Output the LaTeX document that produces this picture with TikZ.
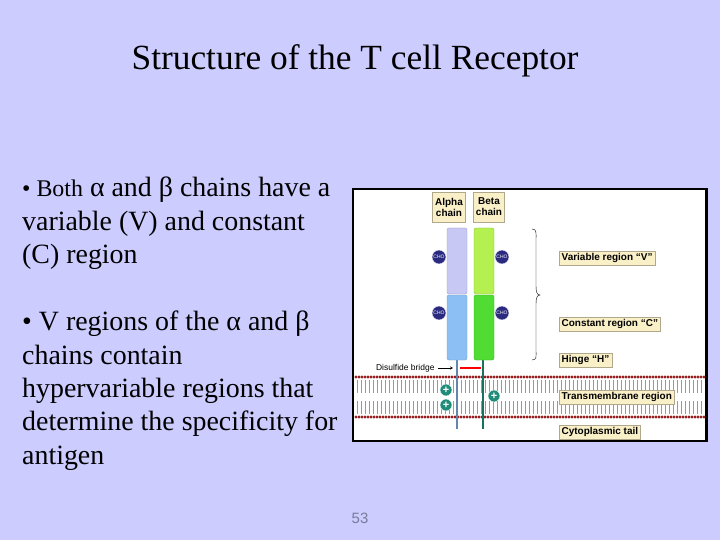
\documentclass[tikz,border=0pt]{standalone}
\usepackage{fontspec}
\setmainfont{Liberation Serif}
\newfontfamily\labelfont{Liberation Sans}
\definecolor{slidebg}{HTML}{CCCCFF}
\definecolor{boxfill}{HTML}{FAF0C8}
\definecolor{alphaV}{HTML}{C8C8F5}
\definecolor{alphaC}{HTML}{8CC0F5}
\definecolor{betaV}{HTML}{B4F050}
\definecolor{betaC}{HTML}{50DC32}
\definecolor{choblue}{HTML}{2A2A80}
\definecolor{plusgreen}{HTML}{1E8C78}
\definecolor{lipid}{HTML}{961E1E}
\tikzset{
  tag/.style={draw=boxfill!70!black,fill=boxfill,inner sep=2.5pt,font=\labelfont\bfseries\fontsize{10}{11}\selectfont,anchor=west},
  cho/.style={circle,fill=choblue,draw=white,inner sep=0pt,minimum size=14pt,font=\labelfont\fontsize{5}{5}\selectfont,text=white},
  plus/.style={circle,fill=plusgreen,draw=white,inner sep=0pt,minimum size=12pt,font=\labelfont\bfseries\fontsize{11}{11}\selectfont,text=white},
  body/.style={anchor=north west,align=left,font=\fontsize{28}{33.5}\selectfont,inner sep=0pt}
}
\begin{document}
\begin{tikzpicture}[x=1bp,y=-1bp]
\fill[slidebg] (0,0) rectangle (720,540);
\useasboundingbox (0,0) rectangle (720,540);
% title and text
\node (title) at (355,61) {\fontsize{35.5}{40}\selectfont Structure of the T cell Receptor};
\node[body] (txtA) at (22,177) {{\fontsize{24}{24}\selectfont\textbullet\ Both} α and β chains have a\\variable (V) and constant\\(C) region};
\node[body] (txtB) at (22,311) {\textbullet\ V regions of the α and β\\chains contain\\hypervariable regions that\\determine the specificity for\\antigen};
\node[text=slidebg!60!black,font=\labelfont\fontsize{15}{15}\selectfont] (page) at (360,518) {53};
% figure frame
\draw[line width=3pt,fill=white] (353,189) rectangle (706,441);
% membrane
\foreach \x in {357,361,...,703} {
  \draw[gray!80,line width=0.6pt] (\x,380) -- (\x,393);
  \draw[gray!80,line width=0.6pt] (\x,401) -- (\x,414);
}
\foreach \x in {356,359,...,704} {
  \fill[lipid] (\x,377) circle (1.6);
  \fill[lipid] (\x,417) circle (1.6);
}
% chains
\draw[alphaC!70!black,line width=2.5pt] (457,358) -- (457,429);
\draw[plusgreen!80!black,line width=2.5pt] (483,358) -- (483,429);
\draw[red,line width=1.2pt] (460,368) -- (481,368);
\node[font=\labelfont\fontsize{8.5}{8.5}\selectfont,anchor=east] (bridge) at (438,368) {Disulfide bridge};
\draw[->,>=stealth] (bridge.east) -- (453,368);
\draw[alphaV!80!black,fill=alphaV,rounded corners=2pt] (447,228) rectangle (467,294);
\draw[alphaC!80!black,fill=alphaC,rounded corners=2pt] (447,295) rectangle (467,360);
\draw[betaV!80!black,fill=betaV,rounded corners=2pt] (474,228) rectangle (494,294);
\draw[betaC!80!black,fill=betaC,rounded corners=2pt] (474,295) rectangle (494,360);
\node[cho] (choA1) at (439,257) {CHO};
\node[cho] (choB1) at (502,257) {CHO};
\node[cho] (choA2) at (439,313) {CHO};
\node[cho] (choB2) at (502,313) {CHO};
\node[plus] (plusA1) at (446,390) {+};
\node[plus] (plusA2) at (446,405) {+};
\node[plus] (plusB1) at (494,396) {+};
% chain names
\node[tag,align=center,anchor=center,minimum height=30pt] (alpha) at (449,207) {Alpha\\chain};
\node[tag,align=center,anchor=center,minimum height=30pt] (beta) at (489,207) {Beta\\chain};
% brace
\draw (532,229) .. controls (537,229) and (536,233) .. (536,240) -- (536,286) .. controls (536,292) and (537,295) .. (540,295)
  .. controls (537,295) and (536,298) .. (536,304) -- (536,350) .. controls (536,357) and (537,360) .. (532,360);
% region labels
\node[tag] (varV) at (559,258) {Variable region “V”};
\node[tag] (conC) at (559,324) {Constant region “C”};
\node[tag] (hinge) at (559,360) {Hinge “H”};
\node[tag] (tmem) at (559,397) {Transmembrane region};
\node[tag] (cyto) at (559,432) {Cytoplasmic tail};
\end{tikzpicture}
\end{document}
